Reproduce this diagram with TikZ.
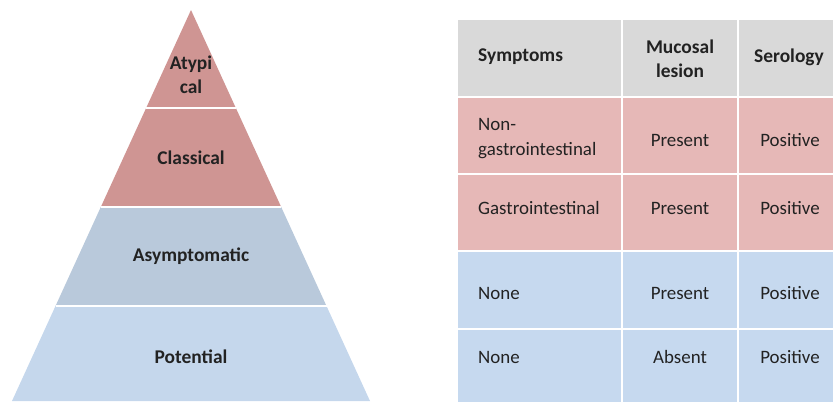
\documentclass[tikz,border=0pt]{standalone}
\usepackage{fontspec}
\setmainfont{Carlito}
\definecolor{pinkA}{HTML}{CF9593}
\definecolor{blueA}{HTML}{B9C9DB}
\definecolor{blueB}{HTML}{C5D7EC}
\definecolor{hdr}{HTML}{D9D9D9}
\definecolor{pinkT}{HTML}{E6B8B7}
\definecolor{blueT}{HTML}{C6D9EF}
\definecolor{txtc}{HTML}{222222}
\begin{document}
\begin{tikzpicture}[x=1bp,y=-1bp,
  txt/.style={font=\fontsize{19}{25}\selectfont, text=txtc, inner sep=0pt},
  btxt/.style={font=\fontsize{19.5}{24.5}\selectfont\bfseries, text=txtc, inner sep=0pt},
  sep/.style={white, line width=1.6bp}]
\useasboundingbox (0,0) rectangle (833,401);
% pyramid
\fill[pinkA] (191,10) -- (100.8,207) -- (281.2,207) -- cycle;
\fill[blueA] (100.8,207) -- (55.5,306) -- (326.5,306) -- (281.2,207) -- cycle;
\fill[blueB] (55.5,306) -- (12,401) -- (370,401) -- (326.5,306) -- cycle;
\draw[sep] (146.1,108) -- (235.9,108);
\draw[sep] (100.8,207) -- (281.2,207);
\draw[sep] (55.5,306) -- (326.5,306);
\node[btxt, align=center] (atyp) at (191,75) {Atypi\\cal};
\node[btxt] (clas) at (191,158) {Classical};
\node[btxt] (asym) at (191,256) {Asymptomatic};
\node[btxt] (pot) at (191,357) {Potential};
% table
\fill[hdr] (458,20) rectangle (840,97);
\fill[pinkT] (458,97) rectangle (840,251);
\fill[blueT] (458,251) rectangle (840,405);
\draw[sep] (458,97) -- (840,97);
\draw[sep] (458,174) -- (840,174);
\draw[sep] (458,251) -- (840,251);
\draw[sep] (458,329) -- (840,329);
\draw[sep] (622,20) -- (622,405);
\draw[sep] (738,20) -- (738,405);
\node[btxt, anchor=west] (h1) at (478,57) {Symptoms};
\node[btxt, align=center] (h2) at (680,59) {Mucosal\\lesion};
\node[btxt] (h3) at (789,57) {Serology};
\node[txt, anchor=west, align=left] (r1a) at (478,139) {Non-\\gastrointestinal};
\node[txt] (r1b) at (680,140) {Present};
\node[txt] (r1c) at (790,140) {Positive};
\node[txt, anchor=west] (r2a) at (478,208) {Gastrointestinal};
\node[txt] (r2b) at (680,208) {Present};
\node[txt] (r2c) at (790,208) {Positive};
\node[txt, anchor=west] (r3a) at (478,293) {None};
\node[txt] (r3b) at (680,293) {Present};
\node[txt] (r3c) at (790,293) {Positive};
\node[txt, anchor=west] (r4a) at (478,357) {None};
\node[txt] (r4b) at (680,357) {Absent};
\node[txt] (r4c) at (790,357) {Positive};
\end{tikzpicture}
\end{document}
